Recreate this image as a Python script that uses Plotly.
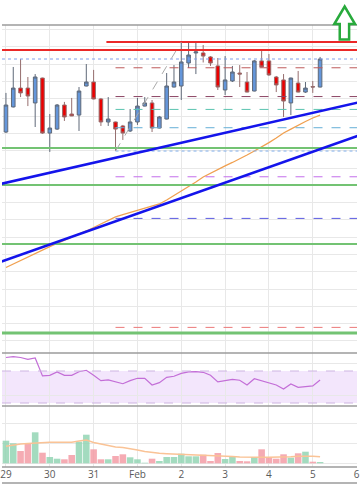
import plotly.graph_objects as go
import pandas as pd

# ---------------- data ----------------
times = pd.date_range("2020-01-29 00:00", periods=44, freq="4h")

opens = [112.08, 113.53, 114.62, 114.62, 113.76, 115.20, 112.02, 112.25, 113.64, 113.12,
         113.06, 114.74, 114.97, 113.99, 112.66, 112.66, 112.43, 112.14, 112.66, 113.58,
         113.76, 112.31, 112.83, 114.68, 114.74, 116.07, 116.65, 116.65, 116.42, 115.90,
         114.51, 115.03, 115.49, 114.97, 114.45, 116.19, 116.19, 115.26, 115.09, 113.76,
         114.91, 114.39, 114.71, 114.68]
highs = [114.34, 115.84, 116.30, 115.26, 115.43, 115.22, 113.12, 113.70, 113.82, 114.05,
         114.68, 116.01, 115.67, 114.05, 114.10, 112.68, 112.49, 113.41, 114.05, 114.10,
         113.93, 113.01, 115.49, 115.95, 117.28, 117.23, 117.23, 117.11, 116.47, 116.36,
         116.47, 115.90, 115.95, 115.55, 116.24, 116.76, 116.59, 115.32, 115.43, 115.22,
         115.61, 114.97, 115.03, 116.42]
lows = [112.02, 113.50, 114.10, 113.58, 112.37, 111.97, 110.93, 112.20, 112.72, 113.00,
        112.14, 114.72, 113.97, 112.43, 112.43, 110.98, 111.62, 112.08, 112.49, 113.56,
        112.08, 112.29, 112.81, 114.66, 113.93, 115.78, 115.43, 116.10, 115.90, 114.51,
        114.22, 114.97, 114.68, 114.37, 114.43, 115.82, 115.32, 114.39, 112.95, 113.06,
        114.37, 114.34, 114.34, 114.66]
closes = [113.64, 114.62, 114.34, 114.16, 115.26, 112.02, 112.31, 113.64, 112.95, 113.01,
          114.45, 114.97, 113.99, 112.66, 112.83, 112.25, 112.02, 112.66, 113.58, 113.76,
          112.31, 112.95, 114.74, 114.97, 116.13, 116.53, 116.71, 116.47, 116.07, 114.68,
          115.09, 115.55, 115.43, 114.39, 116.19, 115.84, 115.38, 114.80, 113.87, 115.20,
          114.39, 114.62, 114.68, 116.30]

ma_price = [104.25, 104.45, 104.68, 104.88, 105.09, 105.29, 105.46, 105.64, 105.81, 105.98,
            106.16, 106.36, 106.56, 106.76, 106.97, 107.17, 107.31, 107.43, 107.54, 107.66,
            107.77, 107.92, 108.15, 108.41, 108.64, 108.90, 109.19, 109.48, 109.71, 109.91,
            110.12, 110.32, 110.52, 110.75, 110.98, 111.21, 111.47, 111.73, 112.02, 112.25,
            112.49, 112.69, 112.89, 113.06]

rsi = [86.9, 87.9, 86.9, 84.6, 86.3, 63.8, 64.6, 68.8, 64.6, 64.6,
       69.1, 70.9, 64.6, 57.9, 58.8, 56.3, 54.1, 57.9, 60.9, 60.9,
       52.5, 55.4, 62.1, 63.4, 67.1, 68.8, 69.1, 68.4, 64.6, 56.3,
       58.4, 59.6, 58.4, 52.5, 60.4, 57.9, 55.4, 52.5, 47.5, 53.8,
       49.6, 50.4, 51.3, 58.8]

volume = [1130, 1000, 615, 1000, 1550, 530, 315, 230, 200, 415,
          1080, 1430, 700, 200, 200, 365, 450, 300, 200, 30,
          230, 115, 315, 315, 480, 350, 350, 430, 115, 515,
          215, 365, 115, 100, 315, 700, 315, 230, 450, 280,
          500, 580, 80, 65]

vol_ma = [850, 915, 965, 990, 1015, 1040, 1050, 1050, 1050, 1050,
          1115, 1165, 1040, 965, 880, 815, 790, 740, 665, 590,
          540, 500, 480, 465, 455, 450, 440, 430, 415, 400,
          365, 340, 315, 300, 300, 300, 300, 300, 315, 330,
          350, 365, 350, 330]

# horizontal levels (price)
red_level_full = 116.82
red_level_short = 117.28
red_short_start = "2020-01-31 07:00"
blue_dotted_level = 116.30
green_levels = [111.16, 109.02, 105.61, 100.46]

# Fibonacci tool (low -> high)
fib_start = "2020-01-31 12:00"
fib_end_time = "2020-02-02 00:00"
fib_high = 117.28
fib_low = 110.98
fib_ratios = [0.236, 0.5, 0.618, 0.786, 1.0, 1.236, 1.618, 2.618]
fib_colors = ["rgb(190,90,90)", "rgb(140,70,100)", "rgb(90,195,175)", "rgb(100,175,215)",
              "rgb(130,175,235)", "rgb(195,110,235)", "rgb(90,90,225)", "rgb(235,120,120)"]
fib_dash = ["dash", "dash", "dash", "dash", "dot", "dash", "dash", "dash"]

# trend lines: (time0, price0, time1, price1)
trend_upper = ("2020-01-28 12:00", 108.86, "2020-02-06 12:00", 114.06)
trend_lower = ("2020-01-28 12:00", 104.24, "2020-02-06 12:00", 112.28)

tick_dates = ["2020-01-29", "2020-01-30", "2020-01-31", "2020-02-01", "2020-02-02",
              "2020-02-03", "2020-02-04", "2020-02-05", "2020-02-06"]
tick_text = ["29", "30", "31", "Feb", "2", "3", "4", "5", "6"]

x_range = ["2020-01-28 21:50", "2020-02-06 00:13"]
far_right = "2020-02-08 00:00"

# ---------------- layout helpers ----------------
H = 504.0
W = 360.0
def py(y):
    return 1 - y / H
def px(x):
    return x / W

GREEN_UP = "rgba(140,210,175,0.8)"
RED_DN = "rgba(243,150,160,0.8)"

fig = go.Figure()

fig.add_trace(go.Candlestick(
    x=times, open=opens, high=highs, low=lows, close=closes,
    xaxis="x", yaxis="y",
    increasing=dict(fillcolor="rgb(100,150,218)", line=dict(color="rgb(95,105,120)", width=1)),
    decreasing=dict(fillcolor="rgb(235,0,0)", line=dict(color="rgb(150,110,110)", width=1)),
    whiskerwidth=0, showlegend=False, hoverinfo="skip"))

fig.add_trace(go.Scatter(x=times, y=ma_price, mode="lines", xaxis="x", yaxis="y",
                         line=dict(color="rgb(240,160,80)", width=1.3), showlegend=False,
                         hoverinfo="skip"))

fig.add_trace(go.Scatter(x=times, y=rsi, mode="lines", xaxis="x2", yaxis="y2",
                         line=dict(color="rgb(195,110,215)", width=1.2), showlegend=False,
                         hoverinfo="skip"))

vcolors = [GREEN_UP if c >= o else RED_DN for o, c in zip(opens, closes)]
fig.add_trace(go.Bar(x=times, y=volume, xaxis="x3", yaxis="y3", marker=dict(color=vcolors, line=dict(width=0)),
                     width=4 * 3600 * 1000 * 0.9, showlegend=False, hoverinfo="skip"))
fig.add_trace(go.Scatter(x=times, y=vol_ma, mode="lines", xaxis="x3", yaxis="y3",
                         line=dict(color="rgb(250,195,150)", width=1.4), showlegend=False,
                         hoverinfo="skip"))

shapes = []
# RSI band
shapes.append(dict(type="rect", xref="paper", yref="y2", x0=0, x1=1, y0=30, y1=70,
                   fillcolor="rgba(232,205,250,0.5)", line=dict(width=0), layer="below"))
for lv in (30, 70):
    shapes.append(dict(type="line", xref="paper", yref="y2", x0=0, x1=1, y0=lv, y1=lv,
                       line=dict(color="rgb(205,180,225)", width=1, dash="dash")))

# green levels
for i, g in enumerate(green_levels):
    shapes.append(dict(type="line", xref="paper", yref="y", x0=0, x1=1, y0=g, y1=g,
                       line=dict(color="rgb(115,195,115)", width=3 if i == 3 else 2)))
# red levels
shapes.append(dict(type="line", xref="paper", yref="y", x0=0, x1=1, y0=red_level_full, y1=red_level_full,
                   line=dict(color="rgb(235,40,40)", width=2)))
shapes.append(dict(type="line", xref="x", yref="y", x0=red_short_start, x1=far_right,
                   y0=red_level_short, y1=red_level_short,
                   line=dict(color="rgb(235,40,40)", width=2)))
shapes.append(dict(type="line", xref="paper", yref="y", x0=0, x1=1, y0=blue_dotted_level, y1=blue_dotted_level,
                   line=dict(color="rgb(130,160,235)", width=1, dash="dot")))
# fibonacci
for r, c, d in zip(fib_ratios, fib_colors, fib_dash):
    lv = fib_high - r * (fib_high - fib_low)
    shapes.append(dict(type="line", xref="x", yref="y", x0=fib_start, x1=far_right, y0=lv, y1=lv,
                       line=dict(color=c, width=1, dash=d)))
shapes.append(dict(type="line", xref="x", yref="y", x0=fib_start, x1=fib_end_time, y0=fib_low, y1=fib_high,
                   line=dict(color="rgb(170,170,170)", width=1, dash="dash")))
# trend lines
for t in (trend_upper, trend_lower):
    shapes.append(dict(type="line", xref="x", yref="y", x0=t[0], y0=t[1], x1=t[2], y1=t[3],
                       line=dict(color="rgb(20,20,235)", width=2.5)))

# panel separators
for yy in (25, 353, 406, 467, 483):
    shapes.append(dict(type="line", xref="paper", yref="paper", x0=0, x1=1, y0=py(yy), y1=py(yy),
                       line=dict(color="rgb(155,155,155)", width=1.5)))

# green outlined arrow (signal marker)
pts = [(337, 24), (347.5, 6.5), (358, 24), (352, 24), (352, 39.5), (342.5, 39.5), (342.5, 24)]
path = "M " + " L ".join(f"{px(a):.5f},{py(b):.5f}" for a, b in pts) + " Z"
shapes.append(dict(type="path", xref="paper", yref="paper", path=path,
                   fillcolor="white", line=dict(color="rgb(40,170,60)", width=2.5)))

grid = "rgb(232,232,232)"
xcommon = dict(range=x_range, type="date", showgrid=True, gridcolor=grid, gridwidth=1,
               tickvals=tick_dates, zeroline=False, showline=False, ticks="")

fig.update_layout(
    width=360, height=504,
    margin=dict(l=0, r=0, t=0, b=0),
    paper_bgcolor="white", plot_bgcolor="white",
    shapes=shapes,
    showlegend=False,
    xaxis=dict(**xcommon, domain=[0, 1], anchor="y", showticklabels=False,
               rangeslider=dict(visible=False)),
    xaxis2=dict(**xcommon, domain=[0, 1], anchor="y2", showticklabels=False, matches="x"),
    xaxis3=dict(**xcommon, domain=[0, 1], anchor="y3", showticklabels=True, matches="x",
                ticktext=tick_text, ticklabeloverflow="allow",
                tickfont=dict(family="Open Sans", size=10, color="rgb(90,90,90)")),
    yaxis=dict(domain=[py(353), py(25)], range=[99.306, 118.266], showticklabels=False,
               gridcolor=grid, tick0=100, dtick=1, zeroline=False, fixedrange=True),
    yaxis2=dict(domain=[py(406), py(353)], range=[26.25, 92.5], showticklabels=False,
                gridcolor=grid, tickvals=[40, 80], zeroline=False),
    yaxis3=dict(domain=[py(467), py(406)], range=[-185, 2865], showticklabels=False,
                gridcolor=grid, tickvals=[0, 1000, 2000], zeroline=False),
)

fig.write_html("out.html", config={"displayModeBar": False},
               post_script="document.body.style.margin='0';document.body.style.overflow='hidden';")
